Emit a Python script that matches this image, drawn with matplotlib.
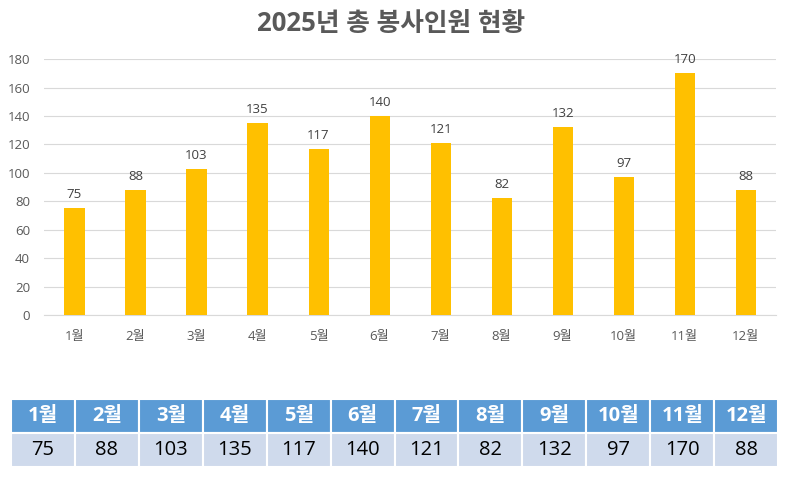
import matplotlib
matplotlib.use('Agg')
import matplotlib.pyplot as plt
import matplotlib.patches as patches

plt.rcParams['font.family'] = ['Open Sans', 'Noto Sans CJK KR', 'DejaVu Sans']

# data
months = ['1월', '2월', '3월', '4월', '5월', '6월',
          '7월', '8월', '9월', '10월', '11월', '12월']
volunteers = [75, 88, 103, 135, 117, 140, 121, 82, 132, 97, 170, 88]
yticks = [0, 20, 40, 60, 80, 100, 120, 140, 160, 180]

text_gray = '#595959'
bar_color = '#FFC000'
head_color = '#5B9BD5'
row_color = '#CFDAEC'

fig = plt.figure(figsize=(8.1, 4.93), dpi=100)
fig.text(0.483, 0.952, '2025년 총 봉사인원 현황', ha='center', va='center',
         fontsize=18.5, fontweight='bold', color=text_gray)

# bar chart
ax = fig.add_axes([0.0543, 0.361, 0.904, 0.519])
x = list(range(len(months)))
ax.bar(x, volunteers, width=0.33, color=bar_color, zorder=3)
for xi, v in zip(x, volunteers):
    ax.text(xi, v + 5, str(v), ha='center', va='bottom',
            fontsize=9.5, color='#404040')
ax.set_xlim(-0.5, len(months) - 0.5)
ax.set_ylim(0, 180)
ax.set_yticks(yticks)
ax.set_xticks(x)
ax.set_xticklabels(months)
ax.grid(axis='y', color='#D9D9D9', linewidth=0.8, zorder=0)
for s in ['top', 'right', 'left']:
    ax.spines[s].set_visible(False)
ax.spines['bottom'].set_color('#D9D9D9')
ax.tick_params(axis='both', length=0, labelsize=9.5, colors=text_gray)
ax.tick_params(axis='x', pad=11)
ax.tick_params(axis='y', pad=10)

# table below
tax = fig.add_axes([0.0136, 0.0527, 0.947, 0.138])
tax.set_xlim(0, len(months))
tax.set_ylim(0, 2)
tax.axis('off')
for i, (m, v) in enumerate(zip(months, volunteers)):
    tax.add_patch(patches.Rectangle((i, 1), 1, 1, fc=head_color,
                                    ec='white', lw=1.5))
    tax.add_patch(patches.Rectangle((i, 0), 1, 1, fc=row_color,
                                    ec='white', lw=1.5))
    tax.text(i + 0.5, 1.5, m, ha='center', va='center', fontsize=14.5,
             fontweight='bold', color='white')
    tax.text(i + 0.5, 0.5, str(v), ha='center', va='center', fontsize=14.5,
             color='black')

fig.savefig('out.png', dpi=100)
